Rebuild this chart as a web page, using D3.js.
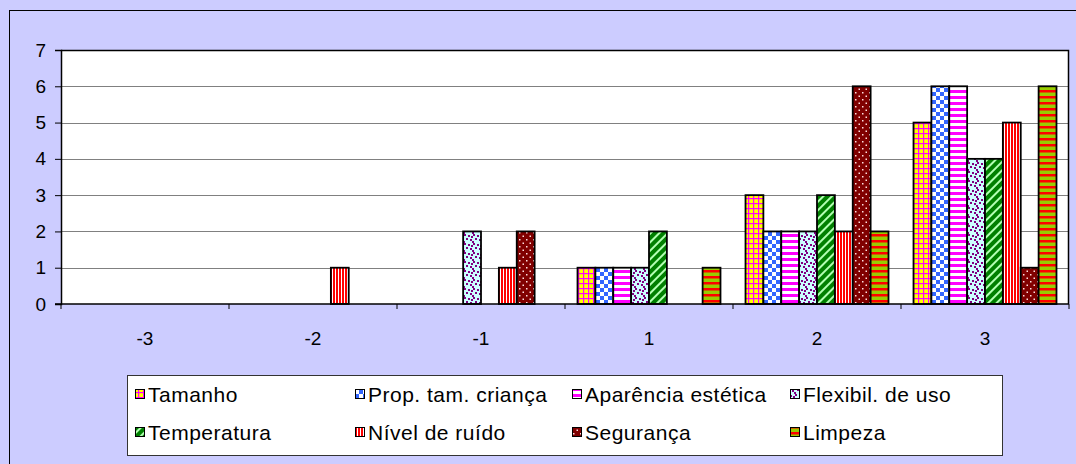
<!DOCTYPE html>
<html><head><meta charset="utf-8">
<script src="https://cdn.jsdelivr.net/npm/d3@7/dist/d3.min.js"></script>
<style>
html,body{margin:0;padding:0;background:#CCCCFF;}
svg{display:block;font-family:"Liberation Sans",Arial,sans-serif;}
</style></head>
<body>
<svg id="chart" width="1076" height="464"></svg>
<script>
const categories = ["-3", "-2", "-1", "1", "2", "3"];
const seriesNames = ["Tamanho", "Prop. tam. criança", "Aparência estética", "Flexibil. de uso",
                     "Temperatura", "Nível de ruído", "Segurança", "Limpeza"];
const tamanho     = [0, 0, 0, 1, 3, 5];
const propTam     = [0, 0, 0, 1, 2, 6];
const aparencia   = [0, 0, 0, 1, 2, 6];
const flexibil    = [0, 0, 2, 1, 2, 4];
const temperatura = [0, 0, 0, 2, 3, 4];
const ruido       = [0, 1, 1, 0, 2, 5];
const seguranca   = [0, 0, 2, 0, 6, 1];
const limpeza     = [0, 0, 0, 1, 2, 6];
const yTicks = [0, 1, 2, 3, 4, 5, 6, 7];

const seriesValues = [tamanho, propTam, aparencia, flexibil, temperatura, ruido, seguranca, limpeza];
const patternIds = ["pTam", "pProp", "pApar", "pFlex", "pTemp", "pRuido", "pSeg", "pLimp"];

const svg = d3.select("#chart");
const defs = svg.append("defs");

function pat(id, w, h, bg, transform) {
  const p = defs.append("pattern").attr("id", id).attr("patternUnits", "userSpaceOnUse")
    .attr("width", w).attr("height", h);
  if (transform) p.attr("patternTransform", transform);
  p.append("rect").attr("width", w).attr("height", h).attr("fill", bg);
  return p;
}
// Tamanho: yellow plaid with magenta lines
{ const p = pat("pTam", 5, 5, "#FFFF00");
  p.append("rect").attr("x", 3).attr("y", 0).attr("width", 1.2).attr("height", 5).attr("fill", "#FF00FF");
  p.append("rect").attr("x", 0).attr("y", 3).attr("width", 5).attr("height", 1.2).attr("fill", "#FF00FF"); }
// Prop: blue/white checker
{ const p = pat("pProp", 8, 8, "#FFFFFF");
  p.append("rect").attr("x", 0).attr("y", 0).attr("width", 4).attr("height", 4).attr("fill", "#3366FF");
  p.append("rect").attr("x", 4).attr("y", 4).attr("width", 4).attr("height", 4).attr("fill", "#3366FF"); }
// Aparência: magenta horizontal stripes
{ const p = pat("pApar", 6, 6, "#FFFFFF");
  p.append("rect").attr("x", 0).attr("y", 0).attr("width", 6).attr("height", 3).attr("fill", "#FF00FF"); }
// Flexibil: confetti
{ const p = pat("pFlex", 9, 9, "#CCFFFF");
  [[0,1],[5,0],[2,5],[7,4],[4,7],[3,2]].forEach(([x,y]) =>
    p.append("rect").attr("x", x).attr("y", y).attr("width", 2).attr("height", 2).attr("fill", "#800080")); }
// Temperatura: green with light diagonal stripes
{ const p = pat("pTemp", 6, 6, "#008000", "rotate(45)");
  p.append("rect").attr("x", 0).attr("y", 0).attr("width", 2).attr("height", 6).attr("fill", "#B3FFB3"); }
// Ruído: red/white vertical stripes
{ const p = pat("pRuido", 3, 3, "#FF0000");
  p.append("rect").attr("x", 2).attr("y", 0).attr("width", 1).attr("height", 3).attr("fill", "#FFFFFF"); }
// Segurança: dark red with white dots
{ const p = pat("pSeg", 7, 7, "#800000");
  p.append("rect").attr("x", 1).attr("y", 1).attr("width", 1.5).attr("height", 1.5).attr("fill", "#FFE0E0");
  p.append("rect").attr("x", 4.5).attr("y", 4.5).attr("width", 1.5).attr("height", 1.5).attr("fill", "#FFE0E0"); }
// Limpeza: green with red horizontal stripes
{ const p = pat("pLimp", 6, 6, "#99CC00");
  p.append("rect").attr("x", 0).attr("y", 0).attr("width", 6).attr("height", 2.5).attr("fill", "#FF0000"); }

// outer chart border (top & left visible)
svg.append("rect").attr("x", 9.5).attr("y", 10.5).attr("width", 1100).attr("height", 500)
  .attr("fill", "#CCCCFF").attr("stroke", "#000").attr("stroke-width", 1);

const plot = {left: 61, right: 1069, top: 50, bottom: 304};
const x = d3.scaleBand().domain(categories).range([plot.left, plot.right]).padding(0);
const xs = d3.scaleBand().domain(seriesNames).range([0, x.bandwidth()]).paddingInner(0).paddingOuter(0.7);
const y = d3.scaleLinear().domain([0, 7]).range([plot.bottom, plot.top]);

// plot background
svg.append("rect").attr("x", plot.left).attr("y", plot.top)
  .attr("width", plot.right - plot.left).attr("height", plot.bottom - plot.top).attr("fill", "#FFFFFF");

// gridlines
svg.append("g").selectAll("line").data(yTicks.filter(t => t > 0 && t < 7)).join("line")
  .attr("x1", plot.left).attr("x2", plot.right)
  .attr("y1", d => Math.round(y(d)) + 0.5).attr("y2", d => Math.round(y(d)) + 0.5)
  .attr("stroke", "#808080").attr("stroke-width", 1);

// plot border (top, right)
svg.append("path").attr("d", `M${plot.left},${plot.top + 0.5}H${plot.right - 0.5}V${plot.bottom}`)
  .attr("fill", "none").attr("stroke", "#000").attr("stroke-width", 1.5);

// bars
const data = [];
categories.forEach((c, ci) => seriesNames.forEach((s, si) => {
  data.push({cat: c, s, si, v: seriesValues[si][ci]});
}));
svg.append("g").selectAll("rect").data(data.filter(d => d.v > 0)).join("rect")
  .attr("x", d => x(d.cat) + xs(d.s))
  .attr("y", d => y(d.v))
  .attr("width", xs.bandwidth())
  .attr("height", d => y(0) - y(d.v))
  .attr("fill", d => `url(#${patternIds[d.si]})`)
  .attr("stroke", "#000").attr("stroke-width", 1.8);

// y axis
const yAxis = svg.append("g").attr("transform", `translate(${plot.left},0)`)
  .call(d3.axisLeft(y).tickValues(yTicks).tickSize(6).tickPadding(9).tickFormat(d3.format("d")));
yAxis.select(".domain").attr("stroke", "#000").attr("stroke-width", 1.5);
yAxis.selectAll(".tick line").attr("stroke", "#000");
yAxis.selectAll("text").attr("font-size", 19).attr("fill", "#000").attr("font-family", "Liberation Sans, Arial, sans-serif");

// x axis line
svg.append("line").attr("x1", plot.left - 6).attr("x2", plot.right).attr("y1", plot.bottom).attr("y2", plot.bottom)
  .attr("stroke", "#000").attr("stroke-width", 1.5);
// x boundary ticks
const bounds = categories.map(c => x(c)).concat([x(categories[categories.length - 1]) + x.bandwidth()]);
svg.append("g").selectAll("line").data(bounds).join("line")
  .attr("x1", d => d).attr("x2", d => d).attr("y1", plot.bottom).attr("y2", plot.bottom + 5)
  .attr("stroke", "#000").attr("stroke-width", 1);
// x labels
svg.append("g").selectAll("text").data(categories).join("text")
  .attr("x", d => x(d) + x.bandwidth() / 2).attr("y", 345)
  .attr("text-anchor", "middle").attr("font-size", 19).attr("fill", "#000").text(d => d);

// legend
const legend = svg.append("g");
legend.append("rect").attr("x", 127.5).attr("y", 375.5).attr("width", 875).attr("height", 80)
  .attr("fill", "#FFFFFF").attr("stroke", "#333").attr("stroke-width", 1);
const legCols = [135, 355, 572, 790];
const legRows = [394, 432];
const items = legend.selectAll("g.item").data(seriesNames).join("g").attr("class", "item")
  .attr("transform", (d, i) => `translate(${legCols[i % 4]},${legRows[Math.floor(i / 4)]})`);
items.append("rect").attr("x", 0.5).attr("y", -4.5).attr("width", 9).attr("height", 9)
  .attr("fill", (d, i) => `url(#${patternIds[i]})`).attr("stroke", "#000").attr("stroke-width", 1);
items.append("text").attr("x", 13).attr("y", 0).attr("dy", "0.36em")
  .attr("font-size", 21).attr("letter-spacing", "0.5px").attr("fill", "#000").text(d => d);
</script>
</body></html>
